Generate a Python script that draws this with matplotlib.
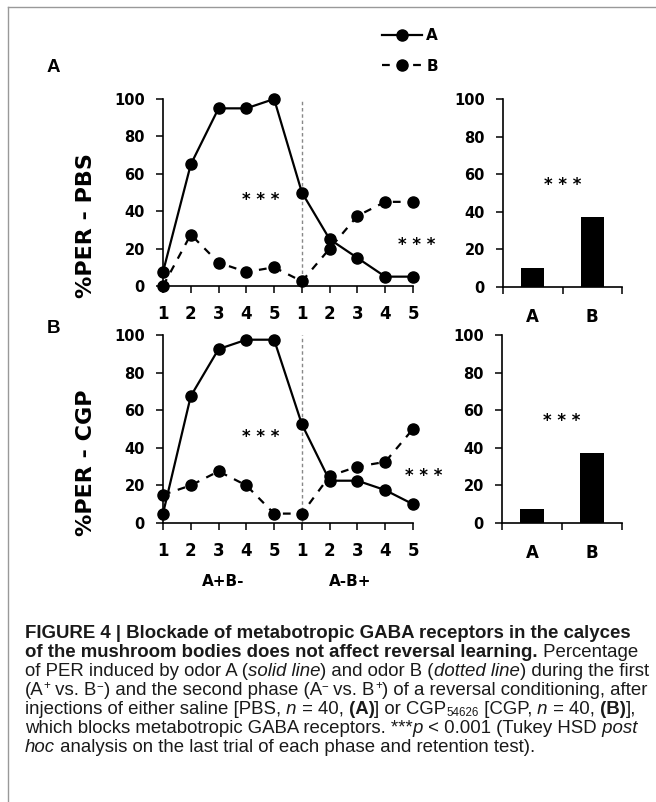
import numpy as np
import matplotlib
matplotlib.use("Agg")
import matplotlib.pyplot as plt
from matplotlib.lines import Line2D

# datos (% PER, n = 40)
ensayos = np.arange(1, 11)
etiquetas_ensayo = ["1", "2", "3", "4", "5", "1", "2", "3", "4", "5"]
fases = ["A+B-", "A-B+"]
olores = ["A", "B"]

pbs_A = [7.5, 65, 95, 95, 100, 50, 25, 15, 5, 5]
pbs_B = [0, 27.5, 12.5, 7.5, 10, 2.5, 20, 37.5, 45, 45]
pbs_test = [10, 37.5]

cgp_A = [5, 67.5, 92.5, 97.5, 97.5, 52.5, 22.5, 22.5, 17.5, 10]
cgp_B = [15, 20, 27.5, 20, 5, 5, 25, 30, 32.5, 50]
cgp_test = [7.5, 37.5]

W, H = 656, 802
fig = plt.figure(figsize=(W / 100, H / 100), dpi=100)
fig.patch.set_facecolor("white")

BOLD = "DejaVu Sans"


def caja(x0, x1, ytop, ybot):
    # posicion en pixeles -> fraccion de figura
    return fig.add_axes([x0 / W, 1 - ybot / H, (x1 - x0) / W, (ybot - ytop) / H])


def estilo_ejes(ax):
    for s in ["top", "right"]:
        ax.spines[s].set_visible(False)
    for s in ["left", "bottom"]:
        ax.spines[s].set_linewidth(1.2)
    ax.tick_params(direction="out", length=5, width=1.1, pad=8)
    ax.set_ylim(0, 100)
    ax.set_yticks(range(0, 101, 20))
    for lab in ax.get_yticklabels():
        lab.set_fontweight("bold")
        lab.set_fontsize(10.5)
        lab.set_family(BOLD)


def panel_lineas(ax, serieA, serieB):
    ax.plot(ensayos, serieA, "-o", color="black", lw=1.6, ms=8, clip_on=False, zorder=3, label="A")
    ax.plot(ensayos, serieB, "o", color="black", lw=1.6, ms=8, clip_on=False, zorder=3,
            ls=(0, (3.5, 3.5)), label="B")
    ax.axvline(6, color="#888888", lw=1, ls=(0, (2.5, 2)), zorder=1)
    ax.set_xlim(1, 10)
    ax.set_xticks(ensayos)
    ax.set_xticklabels(etiquetas_ensayo, fontsize=12, fontweight="bold", family=BOLD)
    estilo_ejes(ax)
    ax.tick_params(axis="x", pad=9)


def panel_barras(ax, valores):
    ax.bar([0.5, 1.5], valores, width=0.39, color="black")
    ax.set_xlim(0, 2)
    ax.set_xticks([0, 1, 2])
    ax.set_xticklabels([])
    ax.set_xticks([0.5, 1.5], minor=True)
    ax.set_xticklabels(olores, minor=True, fontsize=12, fontweight="bold", family=BOLD)
    ax.tick_params(axis="x", which="minor", length=0, pad=15)
    estilo_ejes(ax)


def estrellas(ax, x, y):
    ax.text(x, y, "* * *", ha="center", va="center", fontsize=12, fontweight="bold", family=BOLD)


# --- panel A (PBS)
axA = caja(163, 413, 99, 286)
panel_lineas(axA, pbs_A, pbs_B)
estrellas(axA, 4.5, 46)
estrellas(axA, 10.15, 22)
axAb = caja(503, 622, 99, 287)
panel_barras(axAb, pbs_test)
estrellas(axAb, 1.0, 54)

# --- panel B (CGP)
axB = caja(163, 413, 335, 523)
panel_lineas(axB, cgp_A, cgp_B)
estrellas(axB, 4.5, 46)
estrellas(axB, 10.4, 25)
axBb = caja(502, 622, 335, 523)
panel_barras(axBb, cgp_test)
estrellas(axBb, 1.0, 54)


def ftext(x, y, s, **kw):
    return fig.text(x / W, 1 - y / H, s, **kw)


ftext(86, 226, "%PER - PBS", rotation=90, ha="center", va="center", fontsize=16,
      fontweight="bold", family=BOLD)
ftext(86, 463, "%PER - CGP", rotation=90, ha="center", va="center", fontsize=16,
      fontweight="bold", family=BOLD)
ftext(53, 67, "A", ha="center", va="center", fontsize=13.5, fontweight="bold", family="Liberation Sans")
ftext(53, 328, "B", ha="center", va="center", fontsize=13.5, fontweight="bold", family="Liberation Sans")
ftext(223, 582, fases[0], ha="center", va="center", fontsize=11, fontweight="bold", family=BOLD)
ftext(350, 582, fases[1], ha="center", va="center", fontsize=11, fontweight="bold", family=BOLD)

# leyenda
h1 = Line2D([], [], color="black", lw=1.6, marker="o", ms=8)
h2 = Line2D([], [], color="black", lw=1.6, marker="o", ms=8, ls=(0, (3.5, 3.5)))
leg = fig.legend([h1, h2], olores, loc="center", bbox_to_anchor=(410 / W, 1 - 51 / H),
                 frameon=False, handlelength=2.6, handletextpad=0.3, labelspacing=1.0,
                 numpoints=1, prop={"weight": "bold", "size": 11, "family": BOLD})

# marco
fig.add_artist(Line2D([8 / W, 8 / W], [0, 1 - 7 / H], color="#999999", lw=1))
fig.add_artist(Line2D([8 / W, 1], [1 - 7 / H, 1 - 7 / H], color="#999999", lw=1))

# pie de figura
cap_fam = "Liberation Sans"
cap_fs = 13.4
cap_col = "#1a1a1a"
renderer = fig.canvas.get_renderer()


def linea(y, partes):
    x = 25
    for s, st in partes:
        kw = dict(fontsize=cap_fs, family=cap_fam, color=cap_col, ha="left", va="baseline")
        dy = 0
        if st == "b":
            kw["fontweight"] = "bold"
        elif st == "i":
            kw["fontstyle"] = "italic"
        elif st == "sup":
            kw["fontsize"] = cap_fs * 0.62
            dy = 6
        elif st == "sub":
            kw["fontsize"] = cap_fs * 0.62
            dy = -2
        t = ftext(x, y - dy, s, **kw)
        x += t.get_window_extent(renderer).width


y0, paso = 638, 19
linea(y0, [("FIGURE 4 | Blockade of metabotropic GABA receptors in the calyces", "b")])
linea(y0 + paso, [("of the mushroom bodies does not affect reversal learning.", "b"), (" Percentage", "r")])
linea(y0 + 2 * paso, [("of PER induced by odor A (", "r"), ("solid line", "i"), (") and odor B (", "r"),
                      ("dotted line", "i"), (") during the first", "r")])
linea(y0 + 3 * paso, [("(A", "r"), ("+", "sup"), (" vs. B", "r"), ("\u2212", "sup"),
                      (") and the second phase (A", "r"), ("\u2212", "sup"), (" vs. B", "r"), ("+", "sup"),
                      (") of a reversal conditioning, after", "r")])
linea(y0 + 4 * paso, [("injections of either saline [PBS,", "r"), (" n", "i"), (" = 40,", "r"), (" (A)", "b"),
                      ("] or CGP", "r"), ("54626", "sub"), (" [CGP,", "r"), (" n", "i"), (" = 40,", "r"),
                      (" (B)", "b"), ("],", "r")])
linea(y0 + 5 * paso, [("which blocks metabotropic GABA receptors. ***", "r"), ("p", "i"),
                      (" < 0.001 (Tukey HSD", "r"), (" post", "i")])
linea(y0 + 6 * paso, [("hoc", "i"), (" analysis on the last trial of each phase and retention test).", "r")])

fig.savefig("out.png", dpi=100)
